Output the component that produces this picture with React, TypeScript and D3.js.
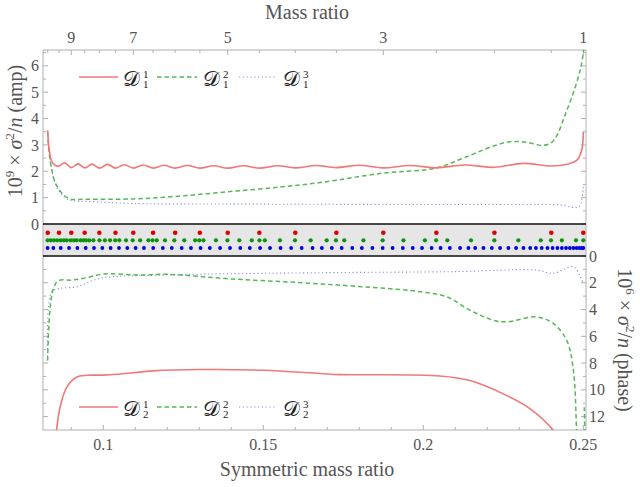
import React from 'react';
import * as d3 from 'd3';

// ---- data ----
const massRatios = [10, 9.5, 9, 8.5, 8, 7.5, 7, 6.5, 6, 5.5, 5, 4.5, 4, 3.5, 3, 2.5, 2, 1.5, 1];
const massRatioLabels = [9, 7, 5, 3, 1];
const etaMajor = [0.1, 0.15, 0.2, 0.25];
const etaMajorLabels = ['0.1', '0.15', '0.2', '0.25'];
const etaMinor = [0.09, 0.11, 0.12, 0.13, 0.14, 0.16, 0.17, 0.18, 0.19, 0.21, 0.22, 0.23, 0.24];
const ampTicks = [0, 1, 2, 3, 4, 5, 6];
const ampMinor = [0.5, 1.5, 2.5, 3.5, 4.5, 5.5, 6.5];
const phaseLabels = [0, 2, 4, 6, 8, 10, 12];
const phaseMinor = [1, 3, 5, 7, 9, 11];

const greenDotEta = [0.0826, 0.0836, 0.0846, 0.0856, 0.0867, 0.0877, 0.0886, 0.0898, 0.0908, 0.0917, 0.0929, 0.0938,
  0.0946, 0.0956, 0.0969, 0.0988, 0.1005, 0.1021, 0.1037, 0.105, 0.1071, 0.1092, 0.1115, 0.1141, 0.1154, 0.1167,
  0.1193, 0.1222, 0.1253, 0.1287, 0.13, 0.1313, 0.1352, 0.1388, 0.1425, 0.1464, 0.1488, 0.1505, 0.1552, 0.1599,
  0.1648, 0.1698, 0.1727, 0.1753, 0.1813, 0.1873, 0.1938, 0.2005, 0.204, 0.2075, 0.2149, 0.2222, 0.2297, 0.2367,
  0.2399, 0.2433, 0.2477, 0.25];
const blueDotEta = [0.0826, 0.0844, 0.0867, 0.0893, 0.0919, 0.0945, 0.0971, 0.0997, 0.1023, 0.1049, 0.1075, 0.1101,
  0.1127, 0.1156, 0.1186, 0.1214, 0.1245, 0.1274, 0.1304, 0.1333, 0.1365, 0.1396, 0.1428, 0.1458, 0.149, 0.1521,
  0.1554, 0.1587, 0.162, 0.1654, 0.1683, 0.1714, 0.1745, 0.1778, 0.1808, 0.1841, 0.1873, 0.1904, 0.1936, 0.1967,
  0.1996, 0.2026, 0.2054, 0.2083, 0.2115, 0.2141, 0.2162, 0.2188, 0.2214, 0.224, 0.2266, 0.229, 0.2313, 0.2334,
  0.2352, 0.237, 0.2388, 0.2404, 0.2419, 0.2433, 0.2446, 0.2458, 0.2469, 0.2479, 0.2488, 0.2495, 0.25];

const ampD1: [number, number][] = [
  [0.0826, 3.55], [0.0838, 2.4], [0.085, 2.22], [0.0862, 2.2], [0.088, 2.32], [0.09, 2.14], [0.0921, 2.28],
  [0.0942, 2.13], [0.0965, 2.27], [0.0988, 2.12], [0.1013, 2.26], [0.1038, 2.12], [0.1066, 2.25], [0.1094, 2.12],
  [0.1125, 2.24], [0.1156, 2.12], [0.119, 2.23], [0.1224, 2.12], [0.1263, 2.22], [0.1302, 2.12], [0.1345, 2.21],
  [0.1389, 2.12], [0.1438, 2.21], [0.1488, 2.12], [0.1544, 2.21], [0.16, 2.13], [0.1664, 2.22], [0.1728, 2.14],
  [0.18, 2.23], [0.1875, 2.13], [0.1958, 2.22], [0.2041, 2.13], [0.213, 2.24], [0.2222, 2.15], [0.2312, 2.3],
  [0.24, 2.2], [0.245, 2.27], [0.248, 2.42], [0.2495, 2.8], [0.25, 3.5]];
const ampD2: [number, number][] = [
  [0.0826, 3.5], [0.0833, 2.5], [0.0849, 1.6], [0.087, 1.18], [0.089, 0.98], [0.0905, 0.93], [0.095, 0.94],
  [0.1093, 0.95], [0.1218, 1.04], [0.1387, 1.22], [0.155, 1.4], [0.1677, 1.57], [0.1874, 1.93], [0.204, 2.12],
  [0.2125, 2.5], [0.2222, 2.97], [0.2271, 3.12], [0.2323, 3.1], [0.2375, 2.98], [0.2406, 3.15], [0.2448, 4.3],
  [0.2479, 5.35], [0.2495, 6.1], [0.2503, 6.8]];
const ampD3: [number, number][] = [
  [0.0826, 3.5], [0.0833, 2.5], [0.0849, 1.55], [0.087, 1.12], [0.089, 0.93], [0.0905, 0.88], [0.095, 0.86],
  [0.1093, 0.78], [0.13, 0.76], [0.16, 0.75], [0.2, 0.74], [0.23, 0.74], [0.243, 0.72], [0.2475, 0.62],
  [0.249, 0.7], [0.25, 1.45]];

const phaseD1: [number, number][] = [
  [0.084, 17], [0.0854, 13], [0.0865, 11.3], [0.0886, 9.8], [0.0917, 9.04], [0.0948, 8.91], [0.1, 8.9],
  [0.1042, 8.84], [0.1156, 8.58], [0.1302, 8.48], [0.15, 8.54], [0.1677, 8.78], [0.174, 8.86], [0.2052, 8.96],
  [0.2146, 9.3], [0.225, 10.3], [0.2333, 11.4], [0.2406, 13], [0.245, 14.5]];
const phaseD2: [number, number][] = [
  [0.0826, 7.8], [0.0833, 4.1], [0.0844, 2.45], [0.0859, 1.85], [0.0901, 1.8], [0.0938, 1.67], [0.1, 1.35],
  [0.1115, 1.42], [0.1198, 1.37], [0.1405, 1.72], [0.1677, 2.08], [0.199, 2.67], [0.2073, 3.05], [0.2146, 4.05],
  [0.2219, 4.8], [0.2261, 4.92], [0.2354, 4.55], [0.2406, 5.04], [0.2448, 6.3], [0.2469, 8.54], [0.2479, 13],
  [0.2488, 18], [0.2497, 18], [0.2503, 11.3]];
const phaseD3: [number, number][] = [
  [0.0826, 7.8], [0.0839, 2.67], [0.0865, 2.42], [0.0917, 2.3], [0.099, 1.67], [0.1198, 1.42], [0.1677, 1.25],
  [0.2094, 1.17], [0.2354, 1.05], [0.2406, 1.3], [0.2469, 0.8], [0.249, 1.55], [0.25, 2.05]];

// ---- layout ----
const W = 640, H = 487;
const L = 43, R = 586, T = 50, B = 430;
const bandTop = 224, bandBot = 256;
const TEXT = '#555';
const FRAME = '#b0b0b0';
const FONT = "'Liberation Serif', 'DejaVu Serif', serif";
const RED = '#f07878', GREEN = '#55b855', BLUE = '#8c8cdc';

const etaOf = (q: number) => q / ((1 + q) * (1 + q));

const x = d3.scaleLinear().domain([0.08116, 0.25084]).range([L, R]);
const yAmp = d3.scaleLinear().domain([0, 6.6]).range([bandTop, T]);
const yPh = d3.scaleLinear().domain([0, 13]).range([bandBot, B]);

const lineAmp = d3.line<[number, number]>().x(d => x(d[0])).y(d => yAmp(d[1])).curve(d3.curveCatmullRom.alpha(0.5));
const linePh = d3.line<[number, number]>().x(d => x(d[0])).y(d => yPh(d[1])).curve(d3.curveCatmullRom.alpha(0.5));

const styles: Record<number, { stroke: string; strokeWidth: number; dash?: string }> = {
  1: { stroke: RED, strokeWidth: 1.6 },
  2: { stroke: GREEN, strokeWidth: 1.5, dash: '4.5,3' },
  3: { stroke: BLUE, strokeWidth: 1.1, dash: '1.2,2.6' },
};

function Legend({ y, sub }: { y: number; sub: string }) {
  const entries = [
    { k: 1, x0: 79, x1: 118, lx: 123 },
    { k: 2, x0: 157, x1: 197, lx: 203 },
    { k: 3, x0: 239, x1: 277, lx: 283 },
  ];
  return (
    <g>
      {entries.map(e => {
        const s = styles[e.k];
        return (
          <g key={e.k}>
            <line x1={e.x0} x2={e.x1} y1={y} y2={y} stroke={s.stroke} strokeWidth={s.strokeWidth} strokeDasharray={s.dash} />
            <text x={e.lx} y={y + 9} style={{ fontFamily: FONT }} fontSize={21} fill="#222">𝒟</text>
            <text x={e.lx + 20} y={y + 1} style={{ fontFamily: FONT }} fontSize={11} fill="#222">{e.k}</text>
            <text x={e.lx + 20} y={y + 11} style={{ fontFamily: FONT }} fontSize={11} fill="#222">{sub}</text>
          </g>
        );
      })}
    </g>
  );
}

export default function App() {
  return (
    <svg width={W} height={H} style={{ position: 'absolute', left: 0, top: 0, background: '#fff', fontFamily: FONT }}>
      <defs>
        <clipPath id="clipAmp"><rect x={L} y={T} width={R - L} height={bandTop - T} /></clipPath>
        <clipPath id="clipPh"><rect x={L} y={bandBot} width={R - L} height={B - bandBot} /></clipPath>
      </defs>
      <rect x={0} y={0} width={W} height={H} fill="#fff" />

      {/* band */}
      <rect x={L} y={bandTop} width={R - L} height={bandBot - bandTop} fill="#e6e6e6" />

      {/* frame */}
      <rect x={L} y={T} width={R - L} height={B - T} fill="none" stroke={FRAME} strokeWidth={1} />

      {/* top axis ticks (mass ratio) */}
      {massRatios.map(q => {
        const major = massRatioLabels.includes(q);
        return <line key={'tq' + q} x1={x(etaOf(q))} x2={x(etaOf(q))} y1={T} y2={T + (major ? 5 : 3)} stroke={FRAME} />;
      })}
      {massRatioLabels.map(q => (
        <text key={'lq' + q} x={x(etaOf(q))} y={43} textAnchor="middle" fontSize={16} fill={TEXT}>{q}</text>
      ))}

      {/* bottom axis */}
      {etaMajor.map(v => <line key={'bM' + v} x1={x(v)} x2={x(v)} y1={B} y2={B - 5} stroke={FRAME} />)}
      {etaMinor.map(v => <line key={'bm' + v} x1={x(v)} x2={x(v)} y1={B} y2={B - 3} stroke={FRAME} />)}
      {etaMajor.map((v, i) => (
        <text key={'bl' + v} x={x(v)} y={450} textAnchor="middle" fontSize={16} fill={TEXT}>{etaMajorLabels[i]}</text>
      ))}

      {/* amp axis ticks */}
      {ampTicks.map(v => (
        <g key={'a' + v}>
          <line x1={L} x2={L + 5} y1={yAmp(v)} y2={yAmp(v)} stroke={FRAME} />
          <line x1={R} x2={R - 5} y1={yAmp(v)} y2={yAmp(v)} stroke={FRAME} />
          <text x={39} y={yAmp(v)} dy="0.35em" textAnchor="end" fontSize={16} fill={TEXT}>{v}</text>
        </g>
      ))}
      {ampMinor.map(v => (
        <g key={'am' + v}>
          <line x1={L} x2={L + 3} y1={yAmp(v)} y2={yAmp(v)} stroke={FRAME} />
          <line x1={R} x2={R - 3} y1={yAmp(v)} y2={yAmp(v)} stroke={FRAME} />
        </g>
      ))}

      {/* phase axis ticks */}
      {phaseLabels.map(v => (
        <g key={'p' + v}>
          <line x1={L} x2={L + 5} y1={yPh(v)} y2={yPh(v)} stroke={FRAME} />
          <line x1={R} x2={R - 5} y1={yPh(v)} y2={yPh(v)} stroke={FRAME} />
          <text x={589} y={yPh(v)} dy="0.35em" textAnchor="start" fontSize={16} fill={TEXT}>{v}</text>
        </g>
      ))}
      {phaseMinor.map(v => (
        <g key={'pm' + v}>
          <line x1={L} x2={L + 3} y1={yPh(v)} y2={yPh(v)} stroke={FRAME} />
          <line x1={R} x2={R - 3} y1={yPh(v)} y2={yPh(v)} stroke={FRAME} />
        </g>
      ))}

      {/* curves */}
      <g clipPath="url(#clipAmp)" fill="none">
        <path d={lineAmp(ampD3) || ''} stroke={styles[3].stroke} strokeWidth={styles[3].strokeWidth} strokeDasharray={styles[3].dash} />
        <path d={lineAmp(ampD2) || ''} stroke={styles[2].stroke} strokeWidth={styles[2].strokeWidth} strokeDasharray={styles[2].dash} />
        <path d={lineAmp(ampD1) || ''} stroke={styles[1].stroke} strokeWidth={styles[1].strokeWidth} />
      </g>
      <g clipPath="url(#clipPh)" fill="none">
        <path d={linePh(phaseD3) || ''} stroke={styles[3].stroke} strokeWidth={styles[3].strokeWidth} strokeDasharray={styles[3].dash} />
        <path d={linePh(phaseD2) || ''} stroke={styles[2].stroke} strokeWidth={styles[2].strokeWidth} strokeDasharray={styles[2].dash} />
        <path d={linePh(phaseD1) || ''} stroke={styles[1].stroke} strokeWidth={styles[1].strokeWidth} />
      </g>

      {/* band dots */}
      {massRatios.map(q => <circle key={'rd' + q} cx={x(etaOf(q))} cy={232.7} r={2.3} fill="#e00000" />)}
      {greenDotEta.map((e, i) => <circle key={'gd' + i} cx={x(e)} cy={240.3} r={2.1} fill="#0a940a" />)}
      {blueDotEta.map((e, i) => <circle key={'bd' + i} cx={x(e)} cy={248} r={1.9} fill="#0000e0" />)}
      <line x1={L} x2={R} y1={bandTop} y2={bandTop} stroke="#111" strokeWidth={1.6} />
      <line x1={L} x2={R} y1={bandBot} y2={bandBot} stroke="#111" strokeWidth={1.6} />

      {/* legends */}
      <Legend y={77} sub="1" />
      <Legend y={407} sub="2" />

      {/* axis titles */}
      <text x={307} y={19} textAnchor="middle" fontSize={20} fill={TEXT}>Mass ratio</text>
      <text x={307} y={476} textAnchor="middle" fontSize={20} fill={TEXT}>Symmetric mass ratio</text>
      <text transform="translate(22,131) rotate(-90)" textAnchor="middle" fontSize={20} fill={TEXT}>
        10<tspan fontSize={13} dy={-8}>9</tspan><tspan dy={8}> × </tspan><tspan fontStyle="italic">σ</tspan>
        <tspan fontSize={13} dy={-8}>2</tspan><tspan dy={8}>/</tspan><tspan fontStyle="italic">n</tspan> (amp)
      </text>
      <text transform="translate(618,340) rotate(90)" textAnchor="middle" fontSize={20} fill={TEXT}>
        10<tspan fontSize={13} dy={-8}>6</tspan><tspan dy={8}> × </tspan><tspan fontStyle="italic">σ</tspan>
        <tspan fontSize={13} dy={-8}>2</tspan><tspan dy={8}>/</tspan><tspan fontStyle="italic">n</tspan> (phase)
      </text>
    </svg>
  );
}
